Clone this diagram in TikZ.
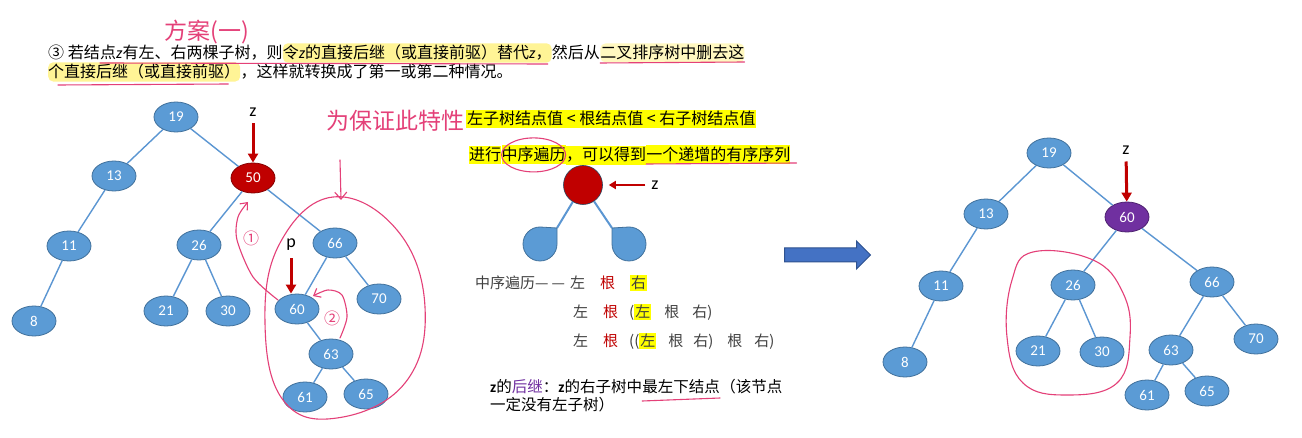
\documentclass[tikz,border=0pt]{standalone}
\usepackage{fontspec}
\setmainfont{Noto Sans CJK SC}
\newfontfamily\numfont{Carlito}
\usetikzlibrary{arrows.meta,shapes.geometric,shapes.arrows,positioning,calc}
\definecolor{nodeblue}{RGB}{91,155,213}
\definecolor{nodeedge}{RGB}{65,113,156}
\definecolor{linkblue}{RGB}{91,150,210}
\definecolor{delred}{RGB}{192,0,0}
\definecolor{succpurple}{RGB}{112,48,160}
\definecolor{inkpink}{RGB}{228,64,120}
\definecolor{hlyellow}{RGB}{255,255,0}
\definecolor{paleyellow}{RGB}{255,244,150}
\definecolor{textgray}{RGB}{64,64,64}
\definecolor{arrowblue}{RGB}{68,114,196}
\definecolor{arrowdark}{RGB}{47,82,143}
\newcommand{\zv}{{\numfont\itshape z}}
\newcommand{\hlbox}[1]{{\setlength{\fboxsep}{1pt}\colorbox{hlyellow}{#1}}}

\begin{document}
\begin{tikzpicture}[x=1pt, y=-1pt, >=Stealth,
    bst/.style={ellipse, draw=nodeedge, fill=nodeblue, line width=0.8pt,
                minimum width=44pt, minimum height=30pt, inner sep=0pt,
                text=white, font=\numfont\fontsize{15}{15}\selectfont},
    hot/.style={bst, fill=delred, draw=delred!70!black},
    moved/.style={bst, fill=succpurple, draw=succpurple!70!black},
    link/.style={draw=linkblue, line width=1.4pt},
    ptr/.style={-{Triangle[width=10pt,length=9pt]}, draw=delred, line width=3pt},
    lbl/.style={inner sep=0pt, font=\numfont\fontsize{18}{18}\selectfont},
    txt/.style={inner sep=0pt, anchor=base west, font=\fontsize{16}{18}\selectfont},
    hl/.style={fill=paleyellow, rounded corners=5pt, inner ysep=2pt},
    hlbright/.style={fill=hlyellow, inner ysep=2pt, font=\fontsize{16}{18}\selectfont},
    ink/.style={draw=inkpink, line width=1.1pt, line cap=round, line join=round},
    inktext/.style={text=inkpink, inner sep=0pt, font=\fontsize{23}{23}\selectfont}
  ]
  \path[fill=white, use as bounding box] (0,0) rectangle (1302,438);

  % top statement
  \node[txt] (l1a) at (48,59) {③ 若结};
  \node[txt] (l1b) at (l1a.base east) {点\zv 有左、右两棵子树，则};
  \node[txt, hl] (l1c) at (l1b.base east) {令\zv 的直接后继（或直接前驱）替代\zv，};
  \node[txt] (l1d) at (l1c.base east) {然后从};
  \node[txt, hl, fill=paleyellow!60] (l1e) at (l1d.base east) {二叉排序树中删去这};
  \node[txt, hl] (l2a) at (48,78) {个直接后继（或直接前驱）};
  \node[txt] (l2b) at (l2a.base east) {，这样就转换成了第一或第二种情况。};
  \draw[ink] ($(l1b.base west)+(0,4)$) -- ($(l1c.base east)+(-4,5)$);
  \draw[ink] ($(l1e.base west)+(0,4)$) -- ($(l1e.base east)+(0,3)$);
  \draw[ink] ($(l2a.base west)+(10,7)$) -- ($(l2a.base east)+(-12,6)$);
  \node[inktext] (plan) at (207,32) {方案(一)};

  % left tree: before deletion
  \node[bst] (a19) at (176,117) {19};
  \node[bst] (a13) at (114,176) {13};
  \node[hot] (a50) at (253,178) {50};
  \node[bst] (a11) at (69,246) {11};
  \node[bst] (a26) at (199,245) {26};
  \node[bst] (a66) at (335,243) {66};
  \node[bst] (a8) at (34,321) {8};
  \node[bst] (a21) at (166,311) {21};
  \node[bst] (a30) at (228,311) {30};
  \node[bst] (a60) at (297,309) {60};
  \node[bst] (a70) at (379,299) {70};
  \node[bst] (a63) at (331,354) {63};
  \node[bst] (a61) at (305,397) {61};
  \node[bst] (a65) at (366,394) {65};
  \foreach \p/\c in {a19/a13,a19/a50,a13/a11,a11/a8,a50/a26,a50/a66,
                     a26/a21,a26/a30,a66/a60,a66/a70,a60/a63,a63/a61,a63/a65}
    \draw[link] (\p) -- (\c);
  \node[lbl] (za) at (253,112) {z};
  \draw[ptr, shorten <=7pt] (za) -- (a50);
  \node[lbl] (pa) at (291,245) {p};
  \draw[ptr, shorten <=7pt] (pa) -- (pa |- a60.north);

  % handwritten notes on the left tree
  \node[inktext] (keep) at (395,121) {为保证此特性};
  \coordinate (keepTail) at (340,160);
  \coordinate (keepTip) at (341,200);
  \draw[ink, -{Straight Barb[length=7pt,width=12pt]}] (keepTail) -- (keepTip);
  \draw[ink] plot[smooth cycle, tension=0.7] coordinates
    {(333,197) (397,230) (425,307) (405,383) (337,418) (283,400) (265,323) (280,243)};
  \draw[ink, -{Straight Barb[length=6pt,width=10pt]}] plot[smooth] coordinates
    {(278,300) (253,277) (237,240) (238,217) (248,202)};
  \node[inktext, font=\fontsize{16}{16}\selectfont] (step1) at (251,238) {①};
  \draw[ink, -{Straight Barb[length=6pt,width=10pt]}] plot[smooth] coordinates
    {(340,338) (347,317) (342,295) (328,290) (313,296)};
  \node[inktext, font=\fontsize{16}{16}\selectfont] (step2) at (332,318) {②};

  % middle: property and in-order idea
  \node[txt, hlbright, inner xsep=1pt] (rule) at (466,125) {左子树结点值 < 根结点值 < 右子树结点值};
  \node[txt, hlbright] (io1) at (469,161) {进行};
  \node[txt, hlbright] (io2) at (io1.base east) {中序遍历};
  \node[txt, hlbright] (io3) at (io2.base east) {，可以得到};
  \node[txt, hlbright] (io4) at (io3.base east) {一个递增的有序序列};
  \draw[ink] (io2.center) ellipse [x radius=32, y radius=17];
  \draw[ink] ($(io4.base west)+(0,3)$) -- ($(io4.base east)+(6,2)$);

  \node[circle, fill=delred, draw=nodeedge!60!black, line width=0.6pt,
        minimum size=39pt, inner sep=0pt] (root) at (583,185) {};
  \node[lbl] (zm) at (655,185) {z};
  \draw[-{Triangle[width=8pt,length=7pt]}, draw=delred, line width=2pt,
        shorten <=6pt, shorten >=6pt] (zm) -- (root);
  \coordinate (dropL) at (557,228);
  \coordinate (dropR) at (612,228);
  \draw[link, line width=2pt] (root) -- (dropL);
  \draw[link, line width=2pt] (root) -- (dropR);
  \draw[fill=nodeblue, draw=nodeedge, line width=0.8pt]
    (dropL) -- ++(0,16) arc[start angle=0, end angle=270, radius=17] -- cycle;
  \draw[fill=nodeblue, draw=nodeedge, line width=0.8pt]
    (dropR) -- ++(0,16) arc[start angle=180, end angle=-90, radius=17] -- cycle;

  \node[txt, text=textgray, font=\fontsize{15}{18}\selectfont] (row1) at (475,289)
    {中序遍历—\hspace{3pt}—\hspace{5pt}左\hspace{15pt}\textcolor{delred}{根}\hspace{15pt}\hlbox{右}};
  \node[txt, text=textgray, font=\fontsize{15}{18}\selectfont] (row2) at (573,318)
    {左\hspace{15pt}\textcolor{delred}{根}\hspace{11pt}(\hlbox{左}\hspace{13pt}根\hspace{13pt}右)};
  \node[txt, text=textgray, font=\fontsize{15}{18}\selectfont] (row3) at (573,347)
    {左\hspace{15pt}\textcolor{delred}{根}\hspace{11pt}((\hlbox{左}\hspace{12pt}根\hspace{10pt}右)\hspace{14pt}根\hspace{12pt}右)};

  \node[txt, font=\fontsize{15.5}{18}\selectfont] (su1) at (490,392)
    {{\numfont\bfseries z}的\textcolor{succpurple}{后继}：{\numfont\bfseries z}的右子树中};
  \node[txt, font=\fontsize{15.5}{18}\selectfont] (su2) at (su1.base east) {最左下结点};
  \node[txt, font=\fontsize{15.5}{18}\selectfont] (su3) at (su2.base east) {（该节点};
  \node[txt, font=\fontsize{15.5}{18}\selectfont] (su4) at (490,410) {一定没有左子树）};
  \draw[ink] ($(su2.base west)+(0,9)$) -- ($(su2.base east)+(0,6)$);

  \node[single arrow, draw=arrowdark, fill=arrowblue, line width=1pt,
        minimum width=27pt, minimum height=86pt, inner xsep=0pt, inner ysep=6.5pt,
        single arrow head extend=7pt] (go) at (824,255) {};

  % right tree: after replacing 50 by 60
  \node[bst] (b19) at (1049,153) {19};
  \node[bst] (b13) at (986,214) {13};
  \node[moved] (b60) at (1127,217) {60};
  \node[bst] (b11) at (941,286) {11};
  \node[bst] (b26) at (1073,285) {26};
  \node[bst] (b66) at (1212,282) {66};
  \node[bst] (b8) at (905,362) {8};
  \node[bst] (b21) at (1038,351) {21};
  \node[bst] (b30) at (1102,352) {30};
  \node[bst] (b63) at (1171,350) {63};
  \node[bst] (b70) at (1256,339) {70};
  \node[bst] (b61) at (1147,395) {61};
  \node[bst] (b65) at (1207,391) {65};
  \foreach \p/\c in {b19/b13,b19/b60,b13/b11,b11/b8,b60/b26,b60/b66,
                     b26/b21,b26/b30,b66/b63,b66/b70,b63/b61,b63/b65}
    \draw[link] (\p) -- (\c);
  \node[lbl] (zb) at (1126,150) {z};
  \draw[ptr, shorten <=7pt] (zb) -- (b60);
  \draw[ink] plot[smooth cycle, tension=0.7] coordinates
    {(1033,252) (1093,260) (1123,293) (1130,337) (1117,383) (1067,395) (1023,383) (1007,337) (1012,280)};
\end{tikzpicture}
\end{document}
